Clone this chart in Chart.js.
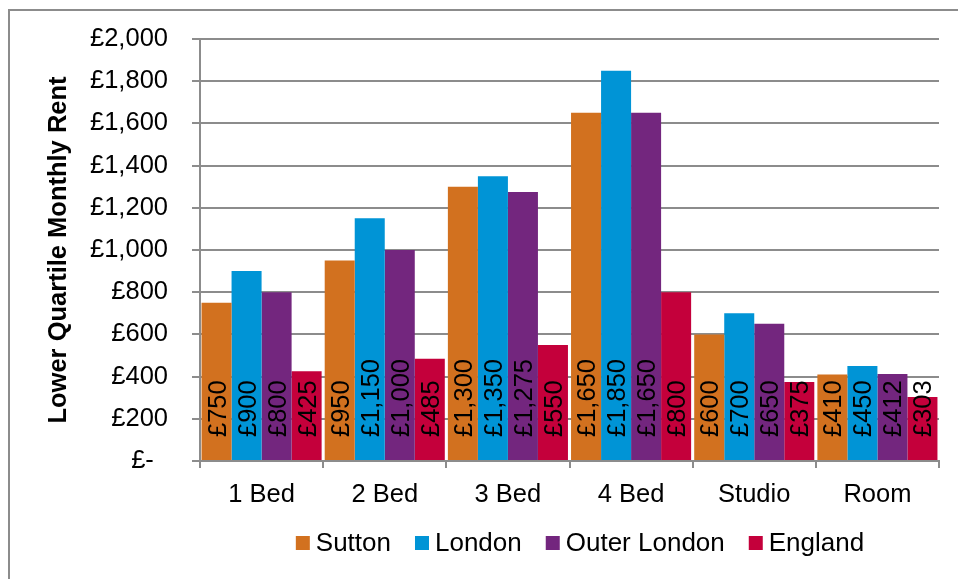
<!DOCTYPE html>
<html>
<head>
<meta charset="utf-8">
<script src="https://cdn.jsdelivr.net/npm/chart.js@4/dist/chart.umd.min.js"></script>
<style>
  html, body { margin: 0; padding: 0; background: #ffffff; }
  #wrap { width: 958px; height: 579px; position: relative; }
</style>
</head>
<body>
<div id="wrap"><canvas id="rentChart" width="958" height="579"></canvas></div>
<script>
// Lower quartile monthly rents by property type
const categories = ['1 Bed', '2 Bed', '3 Bed', '4 Bed', 'Studio', 'Room'];
const sutton      = [750, 950, 1300, 1650, 600, 410];
const london      = [900, 1150, 1350, 1850, 700, 450];
const outerLondon = [800, 1000, 1275, 1650, 650, 412];
const england     = [425, 485, 550, 800, 375, 303];
const seriesNames = ['Sutton', 'London', 'Outer London', 'England'];
const seriesColors = ['#D2711F', '#0094D6', '#73267E', '#C4003B'];
const yTicks = [0, 200, 400, 600, 800, 1000, 1200, 1400, 1600, 1800, 2000];

const FONT = '"Liberation Sans", Arial, Helvetica, sans-serif';
const GRID = '#8c8c8c';

function pounds(v) {
  if (v === 0) return '£-  ';
  return '£' + v.toLocaleString('en-GB');
}

// white background and the frame lines along the top and left edges
const framePlugin = {
  id: 'frame',
  beforeDraw(chart) {
    const ctx = chart.ctx;
    ctx.save();
    ctx.fillStyle = '#ffffff';
    ctx.fillRect(0, 0, chart.width, chart.height);
    ctx.strokeStyle = GRID;
    ctx.lineWidth = 2;
    ctx.beginPath();
    ctx.moveTo(9, chart.height);
    ctx.lineTo(9, 10);
    ctx.lineTo(chart.width, 10);
    ctx.stroke();
    ctx.restore();
  }
};

// value labels written upwards from the base of each bar
const barLabelPlugin = {
  id: 'barLabels',
  afterDatasetsDraw(chart) {
    const ctx = chart.ctx;
    ctx.save();
    ctx.font = '25.5px ' + FONT;
    ctx.fillStyle = '#000000';
    ctx.textAlign = 'left';
    ctx.textBaseline = 'middle';
    chart.data.datasets.forEach((ds, di) => {
      const meta = chart.getDatasetMeta(di);
      meta.data.forEach((bar, i) => {
        ctx.save();
        ctx.translate(bar.x + 2, bar.base - 23);
        ctx.rotate(-Math.PI / 2);
        ctx.fillText(pounds(ds.data[i]), 0, 0);
        ctx.restore();
      });
    });
    ctx.restore();
  }
};

// legend row beneath the category labels
const legendRowPlugin = {
  id: 'legendRow',
  afterDraw(chart) {
    const ctx = chart.ctx;
    const box = 14, gapText = 6, gapItem = 24, cy = 543, centerX = 580;
    ctx.save();
    ctx.font = '26px ' + FONT;
    ctx.textBaseline = 'middle';
    ctx.textAlign = 'left';
    const items = chart.data.datasets.map(ds => ({
      text: ds.label, color: ds.backgroundColor, w: ctx.measureText(ds.label).width
    }));
    let total = 0;
    items.forEach((it, i) => {
      total += box + gapText + it.w + (i < items.length - 1 ? gapItem : 0);
    });
    let x = centerX - total / 2;
    items.forEach(it => {
      ctx.fillStyle = it.color;
      ctx.fillRect(x, cy - box / 2, box, box);
      ctx.fillStyle = '#000000';
      ctx.fillText(it.text, x + box + gapText, cy + 1);
      x += box + gapText + it.w + gapItem;
    });
    ctx.restore();
  }
};

const seriesValues = [sutton, london, outerLondon, england];

new Chart(document.getElementById('rentChart'), {
  type: 'bar',
  data: {
    labels: categories,
    datasets: seriesNames.map((name, i) => ({
      label: name,
      data: seriesValues[i],
      backgroundColor: seriesColors[i],
      borderWidth: 0,
      categoryPercentage: 0.975,
      barPercentage: 1.0
    }))
  },
  options: {
    responsive: false,
    animation: false,
    devicePixelRatio: 1,
    layout: { padding: { top: 39, right: 19, bottom: 0, left: 0 } },
    plugins: {
      legend: { display: false },
      tooltip: { enabled: false }
    },
    scales: {
      x: {
        offset: true,
        grid: {
          display: true,
          drawOnChartArea: false,
          drawTicks: true,
          tickLength: 7,
          offset: true,
          color: GRID,
          lineWidth: 2
        },
        border: { display: true, color: GRID, width: 2 },
        ticks: {
          font: { family: FONT, size: 25.5 },
          color: '#000000',
          padding: 12,
          maxRotation: 0,
          autoSkip: false
        },
        afterFit(scale) {
          scale.height = 118;
          scale.paddingLeft = 0;
          scale.paddingRight = 0;
        }
      },
      y: {
        min: 0,
        max: 2000,
        afterBuildTicks(scale) {
          scale.ticks = yTicks.map(v => ({ value: v }));
        },
        grid: {
          color: GRID,
          lineWidth: 2,
          drawTicks: true,
          tickLength: 8
        },
        border: { display: true, color: GRID, width: 2 },
        ticks: {
          font: { family: FONT, size: 25.5 },
          color: '#000000',
          padding: 24,
          callback: v => pounds(v)
        },
        title: {
          display: true,
          text: 'Lower Quartile Monthly Rent',
          font: { family: FONT, size: 25.5, weight: 'bold' },
          color: '#000000',
          padding: { top: 44, bottom: 0 }
        },
        afterFit(scale) {
          scale.width = 200;
          scale.paddingTop = 0;
          scale.paddingBottom = 0;
        }
      }
    }
  },
  plugins: [framePlugin, barLabelPlugin, legendRowPlugin]
});
</script>
</body>
</html>
